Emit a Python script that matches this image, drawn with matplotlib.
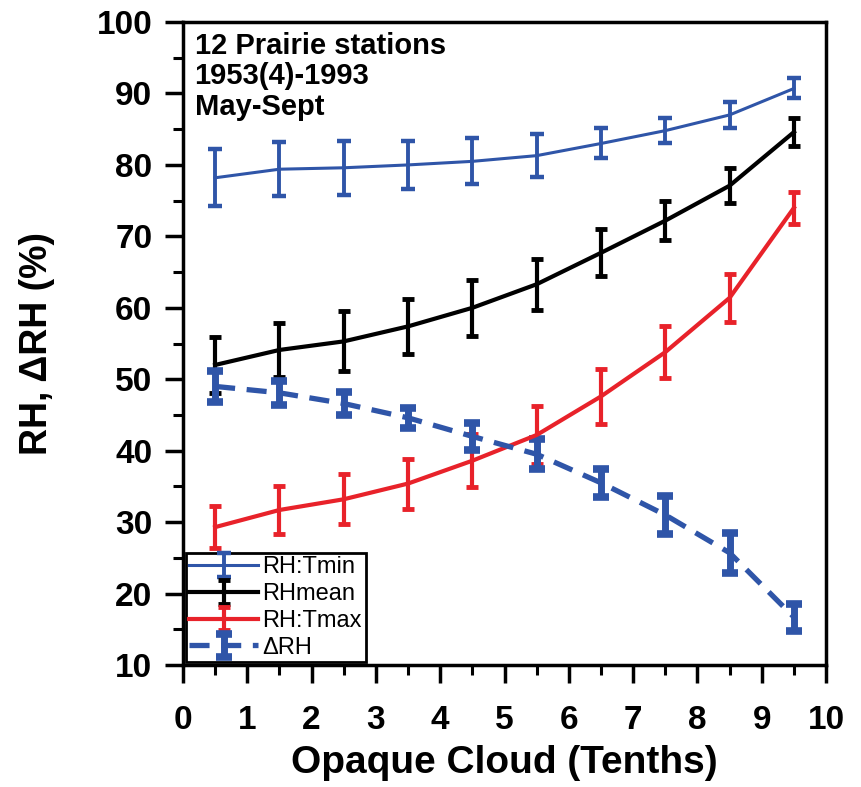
import numpy as np
import matplotlib
matplotlib.use("Agg")
import matplotlib.pyplot as plt
from matplotlib.ticker import MultipleLocator

plt.rcParams['font.family'] = ['Liberation Sans', 'DejaVu Sans']

# cloud classes (tenths), bin centres
cloud = [0.5, 1.5, 2.5, 3.5, 4.5, 5.5, 6.5, 7.5, 8.5, 9.5]

rh_tmin = [78.2, 79.4, 79.6, 80.0, 80.5, 81.3, 83.0, 84.8, 87.0, 90.7]
rh_tmin_err = [4.0, 3.8, 3.8, 3.4, 3.2, 3.0, 2.1, 1.8, 1.8, 1.4]

rh_mean = [52.0, 54.1, 55.3, 57.4, 60.0, 63.3, 67.7, 72.2, 77.1, 84.6]
rh_mean_err = [3.9, 3.8, 4.2, 3.8, 3.9, 3.6, 3.3, 2.7, 2.4, 1.9]

rh_tmax = [29.3, 31.7, 33.2, 35.4, 38.6, 42.2, 47.6, 53.8, 61.4, 74.0]
rh_tmax_err = [2.9, 3.3, 3.5, 3.5, 3.7, 4.0, 3.8, 3.6, 3.4, 2.2]

d_rh = [49.0, 48.1, 46.6, 44.6, 42.0, 39.5, 35.5, 31.0, 25.7, 16.7]
d_rh_err = [2.2, 1.7, 1.6, 1.4, 1.9, 2.1, 2.0, 2.6, 2.8, 1.9]

blue = '#2f55a8'
red = '#e8222a'

fig = plt.figure(figsize=(8.61, 7.87), dpi=100)
ax = fig.add_axes([0.2125, 0.155, 0.747, 0.817])

ax.errorbar(cloud, rh_tmin, yerr=rh_tmin_err, color=blue, lw=2.2,
            elinewidth=2.8, capsize=5, capthick=3.2, label='RH:Tmin')
ax.errorbar(cloud, rh_mean, yerr=rh_mean_err, color='black', lw=3,
            elinewidth=3, capsize=4.5, capthick=3.5, label='RHmean')
ax.errorbar(cloud, rh_tmax, yerr=rh_tmax_err, color=red, lw=3,
            elinewidth=3, capsize=4.5, capthick=3.5, label='RH:Tmax')
ax.errorbar(cloud, d_rh, yerr=d_rh_err, color=blue, lw=3.8, ls=(0, (3.8, 2.2)),
            elinewidth=5, capsize=5.5, capthick=5.5, label='\u0394RH')

ax.set_xlim(0, 10)
ax.set_ylim(10, 100)
ax.xaxis.set_major_locator(MultipleLocator(1))
ax.xaxis.set_minor_locator(MultipleLocator(0.5))
ax.yaxis.set_major_locator(MultipleLocator(10))
ax.yaxis.set_minor_locator(MultipleLocator(5))
ax.tick_params(which='major', direction='out', length=13, width=2.5,
               labelsize=24)
ax.tick_params(axis='x', which='major', pad=16)
ax.tick_params(axis='y', which='major', pad=9)
ax.tick_params(which='minor', direction='out', length=7, width=2.2)
for lab in ax.get_xticklabels() + ax.get_yticklabels():
    lab.set_fontweight('bold')
for sp in ax.spines.values():
    sp.set_linewidth(2.5)

ax.set_xlabel('Opaque Cloud (Tenths)', fontsize=28, fontweight='bold', labelpad=6)
ax.set_ylabel('RH, \u0394RH (%)', fontsize=27, fontweight='bold', labelpad=30)

ax.text(0.018, 0.985, '12 Prairie stations\n1953(4)-1993\nMay-Sept',
        transform=ax.transAxes, ha='left', va='top', fontsize=21,
        fontweight='bold', linespacing=1.12)

leg = ax.legend(loc='lower left', fontsize=17, frameon=True, fancybox=False,
                borderpad=0.15, labelspacing=0.2, handlelength=2.9,
                handletextpad=0.2, borderaxespad=0.12)
leg.get_frame().set_edgecolor('black')
leg.get_frame().set_linewidth(2)
leg.get_frame().set_alpha(1)

fig.savefig('out.png', dpi=100)
